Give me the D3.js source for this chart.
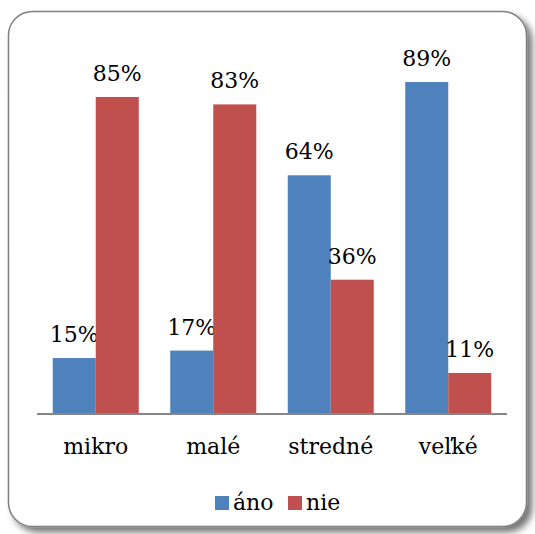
<!DOCTYPE html>
<html><head><meta charset="utf-8">
<script src="https://cdn.jsdelivr.net/npm/d3@7"></script>
<style>body{margin:0;background:#fff}svg{display:block}</style>
</head><body>
<script>
const categories = ["mikro", "malé", "stredné", "veľké"];
const seriesNames = ["áno", "nie"];
const ano = [15, 17, 64, 89];
const nie = [85, 83, 36, 11];
const colors = ["#4F81BD", "#C0504D"];
const FONT = "'DejaVu Serif'";

const W = 535, H = 534;
const svg = d3.select("body").append("svg").attr("width", W).attr("height", H);
const defs = svg.append("defs");
const f = defs.append("filter").attr("id", "sh").attr("x", "-10%").attr("y", "-10%").attr("width", "130%").attr("height", "130%");
f.append("feGaussianBlur").attr("in", "SourceAlpha").attr("stdDeviation", 3.5);
f.append("feOffset").attr("dx", 5).attr("dy", 5).attr("result", "ob");
f.append("feComponentTransfer").append("feFuncA").attr("type", "linear").attr("slope", 0.55);
const m = f.append("feMerge");
m.append("feMergeNode");
m.append("feMergeNode").attr("in", "SourceGraphic");

svg.append("rect").attr("x", 8.5).attr("y", 11.5).attr("width", 518).attr("height", 515)
  .attr("rx", 24).attr("ry", 24).attr("fill", "#fff").attr("stroke", "#808080").attr("stroke-width", 1.5)
  .attr("filter", "url(#sh)");

const x0 = d3.scaleBand().domain(categories).range([37, 507]).paddingInner(0.268).paddingOuter(0.134);
const x1 = d3.scaleBand().domain(seriesNames).range([0, x0.bandwidth()]);
const y = d3.scaleLinear().domain([0, 100]).range([414, 41]);

const data = categories.map((c, i) => ({c, vals: [ano[i], nie[i]]}));
const g = svg.append("g");
data.forEach(d => {
  d.vals.forEach((v, j) => {
    g.append("rect").attr("x", x0(d.c) + x1(seriesNames[j])).attr("y", y(v))
      .attr("width", x1.bandwidth()).attr("height", y(0) - y(v)).attr("fill", colors[j]);
    g.append("text").attr("x", x0(d.c) + x1(seriesNames[j]) + x1.bandwidth() / 2).attr("y", y(v) - 16)
      .attr("text-anchor", "middle").style("font-family", FONT)
      .attr("font-size", 22).attr("fill", "#000").text(v + "%");
  });
});

const ax = svg.append("g").attr("transform", "translate(0,414)")
  .call(d3.axisBottom(x0).tickSize(0).tickPadding(24));
ax.select(".domain").attr("stroke", "#868686").attr("stroke-width", 2).attr("d", "M37,0H507");
ax.selectAll("text").style("font-family", FONT).attr("font-size", 22).attr("fill", "#000").attr("dy", "0.71em");

const leg = svg.append("g");
const legX = [215, 288];
seriesNames.forEach((s, i) => {
  leg.append("rect").attr("x", legX[i]).attr("y", 496).attr("width", 14).attr("height", 14).attr("fill", colors[i]);
  leg.append("text").attr("x", legX[i] + 18).attr("y", 510).style("font-family", FONT)
    .attr("font-size", 22).attr("fill", "#000").text(s);
});
</script>
</body></html>
